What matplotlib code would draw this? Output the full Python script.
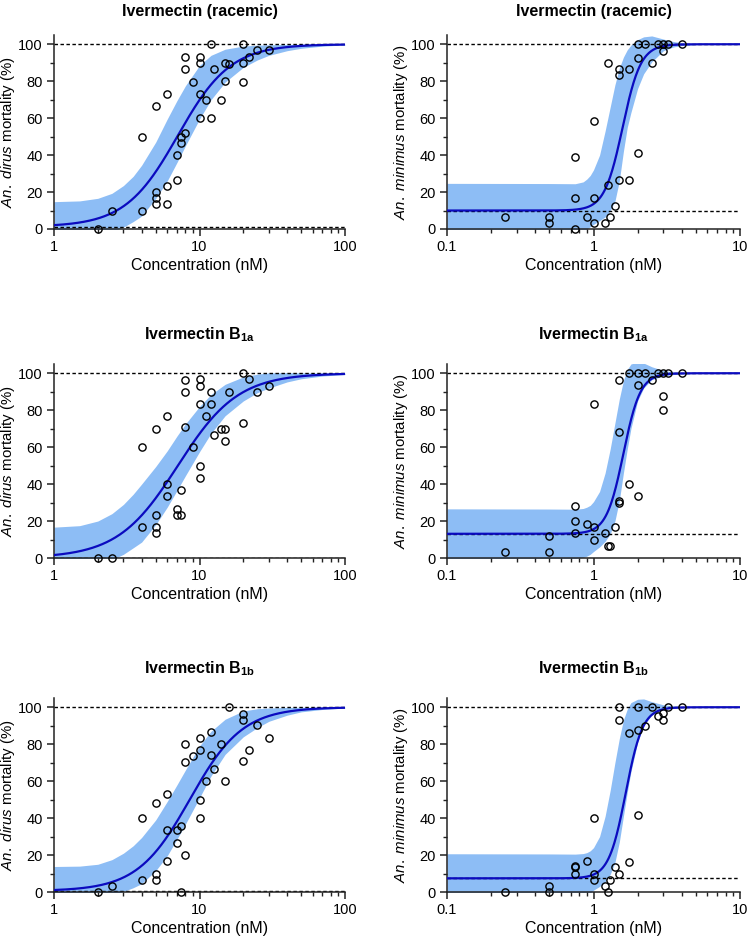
import numpy as np
import matplotlib
matplotlib.use("Agg")
import matplotlib.pyplot as plt
from matplotlib.ticker import FixedLocator, FuncFormatter, LogLocator, NullFormatter

plt.rcParams['font.family'] = ['Liberation Sans', 'DejaVu Sans']
plt.rcParams['mathtext.fontset'] = 'custom'
plt.rcParams['mathtext.rm'] = 'Liberation Sans'
plt.rcParams['mathtext.it'] = 'Liberation Sans:italic'
plt.rcParams['mathtext.bf'] = 'Liberation Sans:bold'

# ---------------- data ----------------
titles = [r"Ivermectin (racemic)", r"Ivermectin (racemic)",
          r"Ivermectin B$_{\mathbf{1a}}$", r"Ivermectin B$_{\mathbf{1a}}$",
          r"Ivermectin B$_{\mathbf{1b}}$", r"Ivermectin B$_{\mathbf{1b}}$"]
ylabels = [r"$\mathit{An.\ dirus}$ mortality (%)", r"$\mathit{An.\ minimus}$ mortality (%)"] * 3

# scatter data (concentration nM, mortality %)
dirus_rac_x = [2, 2.5, 4, 4, 5, 5, 5, 5, 6, 6, 6, 7, 7, 7.5, 7.5, 8, 8, 8, 9, 10, 10, 10, 10,
               11, 12, 12, 12.5, 14, 15, 15, 16, 20, 20, 20, 22, 25, 30]
dirus_rac_y = [0, 10, 10, 50, 66.7, 20, 16.7, 13.3, 73.3, 23.3, 13.3, 26.7, 40, 46.7, 50, 51.7, 93.3, 86.7,
               79.3, 93.3, 90, 73.3, 60, 70, 60, 100, 86.7, 70, 90, 80, 89.2, 100, 90, 79.3, 93.3, 96.7, 96.7]

min_rac_x = [0.25, 0.5, 0.5, 0.75, 0.75, 0.75, 0.9, 1.0, 1.0, 1.0, 1.2, 1.25, 1.25, 1.3, 1.4,
             1.5, 1.5, 1.5, 1.75, 1.75, 2, 2, 2, 2.25, 2.5, 2.75, 3, 3, 3.25, 4]
min_rac_y = [6.5, 6.5, 3.2, 0, 16.6, 39.1, 6.5, 3.2, 16.6, 58.6, 3.2, 24, 90, 6.5, 12.3,
             86.7, 83.2, 26.5, 86.7, 26.5, 100, 92.6, 41.3, 100, 90, 100, 100, 96.6, 100, 100]

dirus_1a_x = [2, 2.5, 4, 4, 5, 5, 5, 5, 6, 6, 6, 7, 7, 7.5, 7.5, 8, 8, 8, 9, 10, 10, 10, 10, 10,
              11, 12, 12, 12.5, 14, 15, 15, 16, 20, 20, 22, 25, 30]
dirus_1a_y = [0, 0, 60, 16.7, 70, 23.3, 16.7, 13.3, 76.7, 40, 33.3, 26.7, 23.3, 23.3, 36.7, 90, 96.2, 71,
              60, 96.7, 93.3, 83.3, 50, 43.3, 76.7, 90, 83.3, 66.7, 70, 70, 63.3, 90, 100, 73.3, 96.7, 90, 93.3]

min_1a_x = [0.25, 0.5, 0.5, 0.75, 0.75, 0.75, 0.9, 1.0, 1.0, 1.0, 1.2, 1.26, 1.3, 1.4,
            1.5, 1.5, 1.5, 1.5, 1.75, 1.75, 2, 2, 2, 2.25, 2.5, 2.75, 3, 3, 3, 3.25, 4]
min_1a_y = [3.3, 3.3, 11.9, 28, 20, 13.3, 18.3, 16.7, 10, 83.4, 13.3, 6.7, 6.7, 16.7,
            96.6, 68.3, 30.6, 29.9, 40.1, 100, 100, 93.9, 33.3, 100, 96.6, 100, 100, 87.6, 80, 100, 100]

dirus_1b_x = [2, 2.5, 4, 4, 5, 5, 5, 6, 6, 6, 7, 7, 7.5, 7.5, 8, 8, 8, 9, 10, 10, 10, 10,
              11, 12, 12, 12.5, 14, 15, 16, 20, 20, 20, 22, 25, 30]
dirus_1b_y = [0, 3.3, 6.7, 40, 10, 6.7, 48.2, 16.7, 33.3, 52.9, 26.7, 33.3, 0, 35.6, 20, 70.1, 80,
              73.4, 83.3, 76.8, 50, 40, 60, 86.7, 74, 66.5, 80, 60, 100, 96.6, 93.3, 71, 76.8, 90.6, 83.3]

min_1b_x = [0.25, 0.5, 0.5, 0.75, 0.75, 0.75, 0.9, 1.0, 1.0, 1.0, 1.2, 1.25, 1.3, 1.4, 1.5,
            1.5, 1.5, 1.75, 1.75, 2, 2, 2, 2.25, 2.5, 2.75, 3, 3, 3.25, 4]
min_1b_y = [0, 3.4, 0, 14, 13.3, 10, 16.7, 40, 10, 6.7, 3.2, 0, 6.7, 13.3, 10,
            100, 93.3, 16, 85.8, 100, 87.6, 41.7, 90, 100, 95.1, 96.8, 93.3, 100, 100]

# fitted dose-response parameters (bottom, EC50, Hill slope); top = 100
fit_bottom = [1.2, 10.0, 0.0, 13.1, 0.5, 7.4]
fit_ec50 = [7.1, 1.58, 7.1, 1.60, 8.6, 1.66]
fit_hill = [2.4, 7.0, 2.1, 7.5, 2.4, 7.5]

# confidence band edges
band_x_dirus = [1, 1.5, 2, 2.5, 3, 3.5, 4, 5, 6, 7, 8, 10, 12, 15, 20, 25, 30, 40, 50, 70, 100]
band_x_min = [0.1, 0.5, 0.75, 0.85, 0.9, 0.95, 1.0, 1.1, 1.2, 1.3, 1.4, 1.5, 1.6, 1.7, 1.8, 2.0,
              2.2, 2.5, 3.0, 3.5, 4.0, 5.0, 6.0, 10]

dirus_rac_hi = [14.8, 15.2, 16.6, 19.3, 23.5, 28.5, 34.5, 47, 59.5, 69.5, 77.5, 88.5, 94, 97.3, 99,
                99.5, 99.7, 99.9, 100, 100, 100]
dirus_rac_lo = [-10, -8, -4.5, -1.5, 1, 4, 7, 16.5, 26, 36, 45, 59.5, 70, 79.5, 87.5, 91.5, 94,
                96.5, 97.8, 99, 99.6]
dirus_1a_hi = [16.7, 17.5, 20, 24, 29, 34.5, 40, 49.5, 58, 66, 72.5, 82, 88.5, 94, 98, 99.5,
               100.2, 100.3, 100.2, 100.1, 100]
dirus_1a_lo = [-12, -9, -4.5, -1, 2, 5.5, 8.6, 18, 27.5, 36.5, 44.5, 57.5, 67.5, 77, 85, 89.5, 92,
               95.3, 97, 98.5, 99.3]
dirus_1b_hi = [13.8, 14, 15, 17.5, 21, 25, 29.5, 39, 49, 58, 66, 79, 87, 93.5, 98, 99.2, 99.6,
               99.9, 100, 100, 100]
dirus_1b_lo = [-12, -9, -5, -2, 0.3, 2.3, 4.5, 11.5, 19.6, 28.6, 36.7, 51, 62.8, 74.5, 84, 89,
               92.4, 95.7, 97.5, 98.8, 99.6]

min_rac_hi = [24.7, 24.6, 24.5, 25.5, 27, 29, 32, 40, 53, 66, 78, 87, 93, 97, 99.5, 102.5, 104,
              104.5, 102.8, 101.5, 100.8, 100.3, 100.1, 100]
min_rac_lo = [-4.7, -4.7, -3.5, -1.5, 0, 1.2, 2.5, 4.5, 6.5, 10, 15, 26, 42, 55, 63, 76, 84,
              90.5, 96.5, 98.5, 99.3, 99.8, 99.9, 100]
min_1a_hi = [26.6, 26.5, 26.4, 26.8, 27.5, 28.5, 30.5, 36, 46, 59, 73, 86, 96, 102, 105, 106,
             105.5, 103.5, 101.5, 100.7, 100.4, 100.1, 100, 100]
min_1a_lo = [-0.4, -0.4, -0.3, 0.3, 1, 2, 3.5, 6, 9, 13, 20, 31, 46, 59, 70, 85, 92, 96.5, 98.6,
             99.3, 99.6, 99.9, 100, 100]
min_1b_hi = [20.7, 20.6, 20.5, 20.8, 21.3, 22.3, 24, 30, 41, 55, 70, 83, 93, 99, 102.5, 104.3,
             104.5, 103, 101.3, 100.7, 100.3, 100.1, 100, 100]
min_1b_lo = [-5.9, -5.9, -5.5, -3.5, -2, -0.5, 1, 3, 5.5, 9.5, 16, 27, 41, 54, 65, 81, 90,
             95.8, 98.8, 99.5, 99.8, 99.9, 100, 100]

pts_x = [dirus_rac_x, min_rac_x, dirus_1a_x, min_1a_x, dirus_1b_x, min_1b_x]
pts_y = [dirus_rac_y, min_rac_y, dirus_1a_y, min_1a_y, dirus_1b_y, min_1b_y]
band_x = [band_x_dirus, band_x_min] * 3
band_hi = [dirus_rac_hi, min_rac_hi, dirus_1a_hi, min_1a_hi, dirus_1b_hi, min_1b_hi]
band_lo = [dirus_rac_lo, min_rac_lo, dirus_1a_lo, min_1a_lo, dirus_1b_lo, min_1b_lo]
xlims = [(1, 100), (0.1, 10)] * 3

# ---------------- figure ----------------
W, H = 747, 941
fig = plt.figure(figsize=(W / 100, H / 100), dpi=100)

col_left = [54, 447]
col_width = [291, 293]
label_right = [17, 410]      # pixel x of the right edge of the y label
row_zero = [229, 558, 892]   # pixel y of value 0
ax_h = 194
title_pad = [14, 18, 18]

band_color = '#8dbdf5'
curve_color = '#0b0bbf'

for i in range(6):
    r, c = divmod(i, 2)
    left = col_left[c] / W
    bottom = 1 - row_zero[r] / H
    ax = fig.add_axes([left, bottom, col_width[c] / W, ax_h / H])
    ax.set_xscale('log')
    ax.set_xlim(*xlims[i])
    ax.set_ylim(0, 105)

    ax.fill_between(band_x[i], band_lo[i], band_hi[i], color=band_color, lw=0, zorder=1)
    xs = np.logspace(np.log10(xlims[i][0]), np.log10(xlims[i][1]), 400)
    ys = fit_bottom[i] + (100 - fit_bottom[i]) / (1 + (fit_ec50[i] / xs) ** fit_hill[i])
    ax.plot(xs, ys, color=curve_color, lw=1.6, zorder=3)
    ax.axhline(100, color='black', lw=1.0, ls=(0, (2.5, 1.8)), zorder=2)
    ax.axhline(fit_bottom[i], color='black', lw=1.0, ls=(0, (2.5, 1.8)), zorder=2)
    ax.plot(pts_x[i], pts_y[i], 'o', ms=5.2, mfc='none', mec='black', mew=1.0,
            clip_on=False, zorder=4)

    for s in ['top', 'right']:
        ax.spines[s].set_visible(False)
    for s in ['left', 'bottom']:
        ax.spines[s].set_linewidth(1.1)
        ax.spines[s].set_color('#222222')

    ax.yaxis.set_major_locator(FixedLocator([0, 20, 40, 60, 80, 100]))
    ax.yaxis.set_minor_locator(FixedLocator([10, 30, 50, 70, 90]))
    ax.xaxis.set_major_locator(LogLocator(base=10, numticks=10))
    ax.xaxis.set_minor_locator(LogLocator(base=10, subs=np.arange(2, 10), numticks=20))
    ax.xaxis.set_major_formatter(FuncFormatter(lambda v, p: '%g' % v))
    ax.xaxis.set_minor_formatter(NullFormatter())
    ax.tick_params(which='major', length=5, width=1.1, labelsize=10.5, color='#222222', pad=3)
    ax.tick_params(which='minor', length=3, width=1.0, color='#222222')

    ax.set_title(titles[i], fontsize=11.5, fontweight='bold', pad=title_pad[r])
    ax.set_ylabel(ylabels[i], fontsize=10.8)
    ax.yaxis.set_label_coords((label_right[c] - col_left[c]) / col_width[c], 0.5)
    ax.set_xlabel('Concentration (nM)', fontsize=11.5, labelpad=3)

fig.savefig('out.png', dpi=100)
